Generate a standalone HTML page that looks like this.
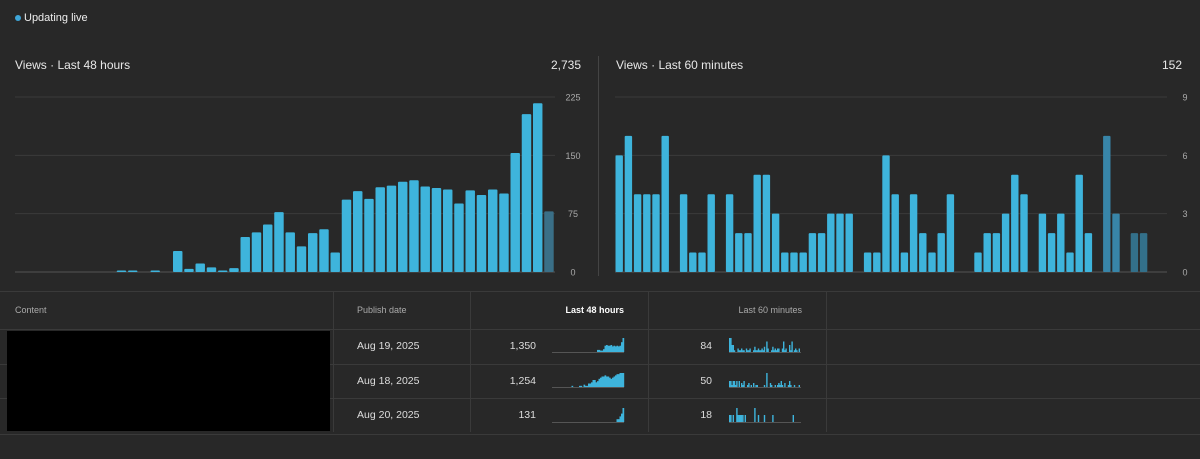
<!DOCTYPE html>
<html><head><meta charset="utf-8">
<style>
body{margin:0;background:#282828;font-family:"Liberation Sans",sans-serif;color:#e8e8e8;width:1200px;height:459px;overflow:hidden;position:relative}
.abs{position:absolute}
</style></head><body>
<div class="abs" style="left:15px;top:12px;font-size:11px;color:#eee;display:flex;align-items:center">
<span style="width:6px;height:6px;border-radius:50%;background:#3ea6d8;display:inline-block;margin-right:3px"></span>Updating live</div>
<div class="abs" style="left:15px;top:58px;font-size:12px">Views · Last 48 hours</div>
<div class="abs" style="left:500px;width:81px;text-align:right;top:58px;font-size:12px">2,735</div>
<div class="abs" style="left:616px;top:58px;font-size:12px">Views · Last 60 minutes</div>
<div class="abs" style="left:1100px;width:82px;text-align:right;top:58px;font-size:12px">152</div>
<div class="abs" style="left:598px;top:56px;width:1px;height:220px;background:#444"></div>
<svg id="charts" class="abs" style="left:0;top:0" width="1200" height="290"></svg>

<div class="abs" style="left:0;top:291px;width:1200px;height:142px;border-top:1px solid #3a3a3a;border-bottom:1px solid #3a3a3a">
</div>
<svg id="table" class="abs" style="left:0;top:0" width="1200" height="459"></svg>
<div class="abs" style="left:15px;top:305px;font-size:9px;color:#aaa">Content</div>
<div class="abs" style="left:357px;top:305px;font-size:9px;color:#aaa">Publish date</div>
<div class="abs" style="left:540px;width:84px;text-align:right;top:305px;font-size:9px;color:#fff;font-weight:bold">Last 48 hours</div>
<div class="abs" style="left:700px;width:102px;text-align:right;top:305px;font-size:9px;color:#aaa">Last 60 minutes</div>
<div class="abs" style="left:7px;top:331px;width:323px;height:100px;background:#000"></div>
<div id="rows"></div>
<script>
const NS="http://www.w3.org/2000/svg";
const hours48=[0,0,0,0,0,0,0,0,0,2,2,0,2,0,27,4,11,6,2,5,45,51,61,77,51,33,50,55,25,93,104,94,109,111,116,118,110,108,106,88,105,99,106,101,153,203,217,78];
const hoursTicks=[0,75,150,225];
const mins60=[6,7,4,4,4,7,0,4,1,1,4,0,4,2,2,5,5,3,1,1,1,2,2,3,3,3,0,1,1,6,4,1,4,2,1,2,4,0,0,1,2,2,3,5,4,0,3,2,3,1,5,2,0,7,3,0,2,2,0,0];
const minsTicks=[0,3,6,9];
const rowDates=["Aug 19, 2025","Aug 18, 2025","Aug 20, 2025"];
const row48=["1,350","1,254","131"];
const row60=["84","50","18"];
const spark48a=[0,0,0,0,0,0,0,0,0,0,0,0,0,0,0,0,0,0,0,0,0,0,0,0,0,0,0,0,0,0,3,3,2,2,4,9,10,9,9,10,8,9,8,9,8,9,14,20];
const spark48b=[0,0,0,0,0,0,0,0,0,0,0,0,0,1,0,0,0,0,1,1,0,2,1,1,3,3,4,6,6,4,5,7,8,9,9,10,9,9,8,7,8,9,10,11,11,12,12,12];
const spark48c=[0,0,0,0,0,0,0,0,0,0,0,0,0,0,0,0,0,0,0,0,0,0,0,0,0,0,0,0,0,0,0,0,0,0,0,0,0,0,0,0,0,0,0,1,1,2,3,5];
const spark60a=[8,8,4,4,1,0,0,2,1,1,2,1,1,0,2,1,1,2,0,0,1,3,1,1,2,1,1,2,1,3,0,6,2,0,0,1,3,1,2,1,2,2,0,0,2,6,1,2,0,0,4,1,6,0,1,2,1,0,2,0];
const spark60b=[3,3,1,3,3,1,3,0,3,0,2,1,3,0,0,1,2,0,1,0,2,0,1,1,0,0,0,0,0,1,0,7,0,0,2,1,0,0,1,0,1,2,1,3,1,0,2,0,0,1,3,1,0,0,1,0,0,0,1,0];
const spark60c=[1,1,0,1,0,0,2,1,1,1,1,1,0,1,0,0,0,0,0,0,0,2,0,0,1,0,0,0,0,1,0,0,0,0,0,0,1,0,0,0,0,0,0,0,0,0,0,0,0,0,0,0,0,1,0,0,0,0,0,0];
const sparks48=[spark48a,spark48b,spark48c];
const sparks60=[spark60a,spark60b,spark60c];

const svg=document.getElementById('charts');
function mk(par,tag,attrs){const e=document.createElementNS(NS,tag);for(const k in attrs)e.setAttribute(k,attrs[k]);par.appendChild(e);return e;}

function barChart(data,ticks,x0,x1,dimFrom,prefix){
  const y0=272,y1=97,max=ticks[ticks.length-1];
  const ys=v=>y0-(v/max)*(y0-y1);
  const pitch=(x1-x0)/data.length;
  ticks.forEach(t=>{
    const l=mk(svg,'line',{x1:x0,x2:x1,y1:ys(t),y2:ys(t),stroke:t===0?'#555':'#3a3a3a','stroke-width':1});
    
    
    const tx=mk(svg,'text',{x:x1+18,y:ys(t)+3.5,'font-size':9,fill:'#aaa','text-anchor':'middle','font-family':'Liberation Sans, sans-serif'});
    tx.textContent=t;
    
    
  });
  data.forEach((v,i)=>{
    if(v<=0)return;
    const r=mk(svg,'rect',{x:x0+i*pitch+0.5,y:ys(v),width:pitch-1.8,height:y0-ys(v),rx:1,fill:i>=dimFrom?(prefix==='hours'?'#3a6f87':'#3885a8'):'#3eb4dc'});
    if(i>=dimFrom && prefix==='mins' && i>=55) r.setAttribute('fill','#33708a');
    
    
  });
}
barChart(hours48,hoursTicks,15,555,47,'hours');
barChart(mins60,minsTicks,615,1167,53,'mins');

const tsvg=document.getElementById('table');
function tl(x1,y1,x2,y2){const l=mk(tsvg,'line',{x1,y1,x2,y2,stroke:'#3a3a3a','stroke-width':1});}
[329,364,398].forEach(y=>tl(0,y+0.5,1200,y+0.5));
[333,470,648,826].forEach(x=>tl(x+0.5,292,x+0.5,432));

function spark(data,x,yb,w,h){
  const max=Math.max(...data,1);const p=w/data.length;
  const base=mk(tsvg,'line',{x1:x,x2:x+w,y1:yb+0.5,y2:yb+0.5,stroke:'#555','stroke-width':1});
  
  
  data.forEach((v,i)=>{if(v<=0)return;
    const r=mk(tsvg,'rect',{x:x+i*p,y:yb-v/max*h,width:p+0.2,height:v/max*h,fill:'#3eb4dc'});
    
    });
}
const rows=document.getElementById('rows');
const rowTop=[329,364,398];
rowDates.forEach((d,i)=>{
  const c=rowTop[i]+17;
  const a=document.createElement('div');a.className='abs';a.style.cssText=`left:357px;top:${c-6}px;font-size:10.5px;color:#ddd`;a.textContent=d;
  
  rows.appendChild(a);
  const b=document.createElement('div');b.className='abs';b.style.cssText=`left:480px;width:56px;text-align:right;top:${c-6}px;font-size:10.5px;color:#ddd`;b.textContent=row48[i];
  
  rows.appendChild(b);
  const e=document.createElement('div');e.className='abs';e.style.cssText=`left:660px;width:52px;text-align:right;top:${c-6}px;font-size:10.5px;color:#ddd`;e.textContent=row60[i];
  
  rows.appendChild(e);
  const yb=[352,387,422][i];
  spark(sparks48[i],552,yb,72,14);
  spark(sparks60[i],729,yb,72,14);
});
</script>
</body></html>
